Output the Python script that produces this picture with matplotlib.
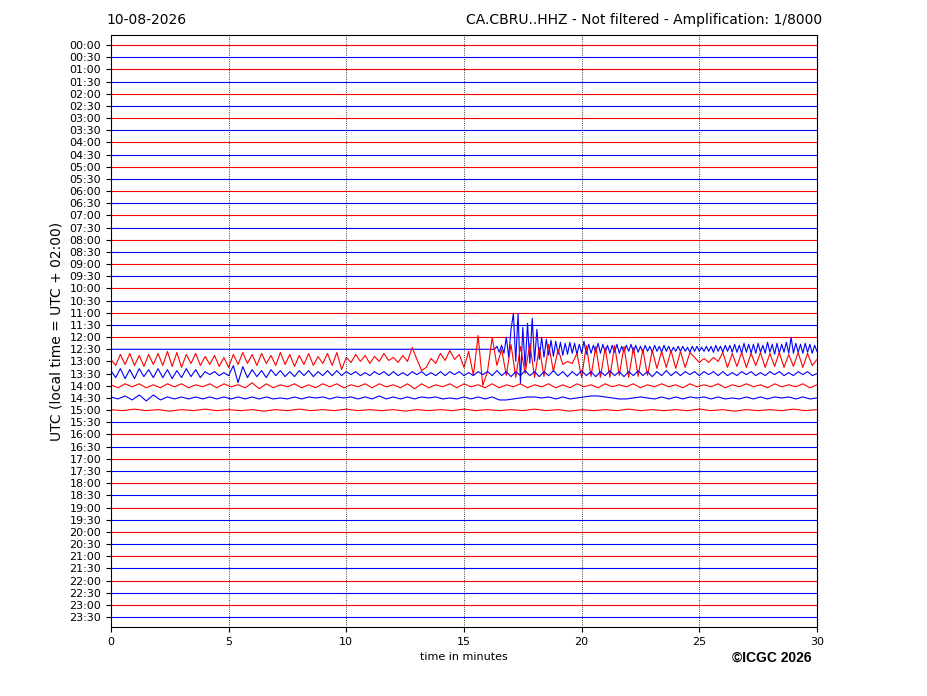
import numpy as np
import matplotlib.pyplot as plt

DATE = "10-08-2026"
STATION = "CA.CBRU..HHZ - Not filtered - Amplification: 1/8000"

# one row per half hour
row_labels = [f"{h:02d}:{m:02d}" for h in range(24) for m in (0, 30)]

# trace offsets (screen pixels, up = positive)
# 12:30 trace, quiet until 16.3 min then the event
t_1230_start = 16.3
trace_1230 = [
    0, 3, -3, 4, -4, 12, -8, 20, 36, -12,
    36, -34, 22, -18, 26, -14, 31, -12, 20, -10,
    12, -8, 10, -6, 9, -7, 8, -5, 7, -6,
    6, -5, 7, -4, 6, -5, 5, -4, 8, -5,
    5, -4, 4, -3, 6, -4, 5, -3, 4, -4,
    4, -3, 5, -4, 3, -3, 4, -2, 5, -3,
    4, -3, 3, -3, 4, -2, 3, -3, 4, -2,
    3, -3, 4, -2, 3, -3, 2, -2, 3, -2,
    3, -2, 2, -3, 3, -2, 3, -2, 2, -2,
    3, -2, 3, -3, 4, -2, 3, -3, 4, -2,
    4, -3, 5, -3, 4, -4, 6, -3, 5, -4,
    5, -4, 6, -3, 4, -4, 7, -3, 5, -5,
    6, -4, 5, -3, 7, -4, 12, -4, 6, -3,
    5, -4, 6, -3, 5, -4, 4, -2,
]

# 13:00 trace, every 0.2 min
trace_1300 = [
    2, -4, 7, -3, 8, -4, 6, -5, 7, -3,
    8, -4, 10, -5, 9, -6, 7, -2, 8, -4,
    5, -3, 6, -5, 4, -6, 7, -3, 9, -2,
    7, -4, 8, -2, 6, -4, 9, -3, 7, -5,
    6, -3, 8, -4, 5, -2, 8, -4, 9, -8,
    4, -1, 7, 0, 6, -2, 5, 0, 8, 1,
    4, -1, 6, 0, 14, 2, -9, -6, 3, -2,
    8, 1, 11, 2, 7, -6, 10, -14, 26, -24,
    -10, 24, -4, 12, -14, 17, -16, 15, -12, 18,
    -16, 14, -15, 17, -10, 12, -3, 0, -2, 8,
    -16, 16, -15, 15, -16, 14, -16, 16, -14, 15,
    -16, 14, -15, 12, -14, 11, -7, 10, -6, 11,
    -7, 10, -6, 9, 4, -1, 3, -1, 4, 0,
    9, -6, 8, -5, 9, -6, 8, -4, 9, -6,
    8, -5, 9, -6, 7, -5, 9, -6, 8, -4,
    2,
]

# 13:30 trace, every 0.2 min
trace_1330 = [
    3, -4, 5, -5, 4, -5, 5, -3, 4, -4,
    5, -4, 4, -5, 3, -4, 5, -3, 4, -4,
    2, -1, 2, -2, 1, -2, 8, -9, 7, -4,
    4, -3, 3, -4, 4, -2, 3, -3, 2, -3,
    3, -2, 3, -3, 2, -2, 3, -2, 3, -2,
    2, -1, 2, -2, 1, -2, 2, -1, 2, -2,
    2, -2, 1, -2, 2, -1, 2, -2, 1, -2,
    2, -2, 2, -1, 2, -2, 1, -2, 2, -1,
    2, -2, 3, -2, 2, -3, 2, -2, 3, -2,
    2, -3, 2, -2, 3, -2, 2, -3, 2, -2,
    3, -2, 2, -3, 2, -2, 3, -2, 2, -3,
    2, -2, 3, -2, 2, -3, 2, -2, 3, -2,
    2, -2, 2, -1, 2, -2, 2, -1, 2, -2,
    2, -2, 1, -2, 2, -1, 2, -2, 1, -2,
    2, -1, 2, -2, 1, -2, 2, -1, 2, -2,
    0,
]

# 14:00 and 14:30 traces, every 0.3 min
trace_1400 = [
    1, -2, 2, -1, 2, -2, 1, -2, 2, -1,
    2, -2, 1, -1, 2, -2, 2, -1, 1, -2,
    3, -3, 2, -2, 1, -1, 2, -2, 1, -2,
    2, -1, 2, -2, 1, -1, 2, -2, 2, -1,
    1, -2, 2, -3, 2, -2, 1, -1, 2, -2,
    2, -1, 1, -2, 2, -2, 1, -1, 2, -2,
    1, -1, 2, -2, 1, -2, 2, -1, 1, -2,
    2, -1, 1, -1, 2, -2, 1, -1, 2, -1,
    1, -2, 2, -1, 1, -1, 2, -2, 1, -1,
    2, -1, 1, -2, 2, -1, 1, -1, 2, -2,
    1,
]

trace_1430 = [
    1, -1, 2, -2, 3, -3, 3, -2, 1, -1,
    1, -1, 1, -1, 1, -1, 1, -1, 1, -1,
    1, -1, 1, -1, 0, -1, 1, -1, 1, 0,
    1, -1, 1, 0, 1, -1, 1, -1, 2, -1,
    1, -1, 1, -1, 1, 0, 1, -1, 0, -1,
    1, -1, 1, -1, 1, -2, -2, -1, 0, 1,
    1, 0, 1, -1, 1, -1, 0, 1, 2, 2,
    1, 0, -1, -1, 0, 1, 0, -1, 1, -1,
    1, -1, 1, 0, 1, -1, 1, -1, 0, -1,
    1, -1, 1, -1, 1, 0, 1, -1, 1, -1,
    0,
]

# 15:00 trace, every 0.5 min
trace_1500 = [
    0.5, -0.5, 1, -0.5, 0.5, -1, 0.5, -0.5, 1, -0.5,
    0.5, -0.5, 0.5, -1, 0.5, -0.5, 1, -0.5, 0.5, -0.5,
    1, -0.5, 0.5, -0.5, 0.5, -1, 0.5, -0.5, 0.5, -0.5,
    1, -0.5, 0.5, -0.5, 0.5, -0.5, 1, -0.5, 0.5, -1,
    0.5, -0.5, 0.5, -0.5, 1, -0.5, 0.5, -0.5, 0.5, -0.5,
    1, -0.5, 0.5, -1, 0.5, -0.5, 0.5, -0.5, 1, -0.5,
    0.5,
]

PX_PER_ROW = 12.2


def main():
    fig = plt.figure(figsize=(9.27, 6.96), dpi=100)
    ax = fig.add_axes([0.1197, 0.0991, 0.7616, 0.8506])

    traces = {
        25: (np.linspace(t_1230_start, 30, len(trace_1230)), trace_1230),
        26: (np.linspace(0, 30, len(trace_1300)), trace_1300),
        27: (np.linspace(0, 30, len(trace_1330)), trace_1330),
        28: (np.linspace(0, 30, len(trace_1400)), trace_1400),
        29: (np.linspace(0, 30, len(trace_1430)), trace_1430),
        30: (np.linspace(0, 30, len(trace_1500)), trace_1500),
    }

    for i in range(len(row_labels)):
        color = "red" if i % 2 == 0 else "blue"
        if i in traces:
            t, v = traces[i]
            y = i - np.array(v, dtype=float) / PX_PER_ROW
            if t[0] > 0:
                t = np.concatenate([[0], t])
                y = np.concatenate([[i], y])
            ax.plot(t, y, color=color, lw=0.8)
        else:
            ax.plot([0, 30], [i, i], color=color, lw=0.8)

    for x in range(5, 30, 5):
        ax.axvline(x, color="black", ls=":", lw=0.6)

    ax.set_xlim(0, 30)
    ax.set_ylim(47.82, -0.82)
    ax.set_xticks(range(0, 31, 5))
    ax.set_yticks(range(len(row_labels)))
    ax.set_yticklabels(row_labels)
    ax.tick_params(labelsize=8)
    ax.set_xlabel("time in minutes", fontsize=8)
    ax.set_ylabel("UTC (local time = UTC + 02:00)", fontsize=10)

    fig.text(106 / 927, 1 - 20 / 696, DATE, ha="left", va="center", fontsize=10)
    fig.text(822 / 927, 1 - 20 / 696, STATION, ha="right", va="center", fontsize=10)
    fig.text(811 / 927, 1 - 658 / 696, "©ICGC 2026", ha="right", va="center",
             fontsize=10, fontweight="bold", family="Liberation Sans")

    fig.savefig("out.png", dpi=100)
    plt.close(fig)


if __name__ == "__main__":
    main()
